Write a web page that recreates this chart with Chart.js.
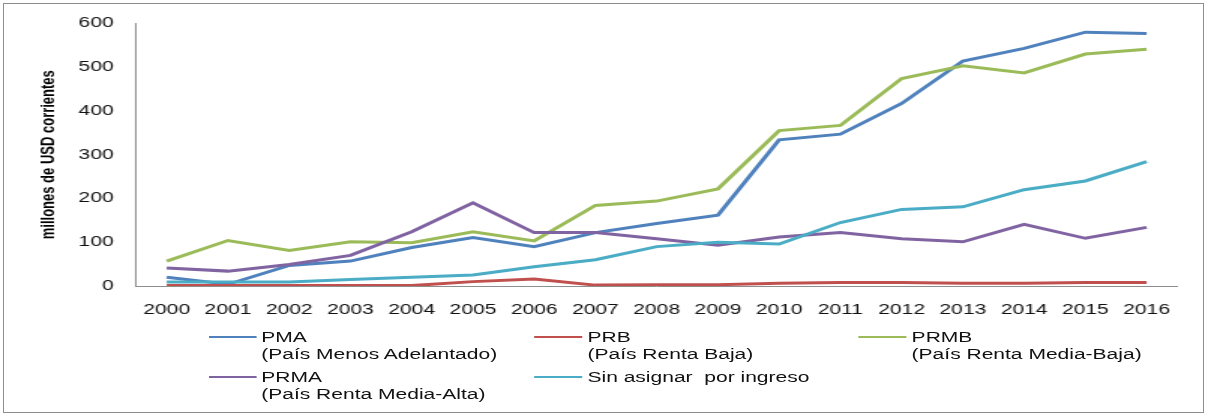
<!DOCTYPE html>
<html>
<head>
<meta charset="utf-8">
<script src="https://cdn.jsdelivr.net/npm/chart.js@4.4.1/dist/chart.umd.min.js"></script>
<style>
    body { margin: 0; background: #fff; width: 1205px; height: 414px; overflow: hidden; }
    #frame {
        position: absolute; left: 3px; top: 3px; width: 1201px; height: 410px;
        box-sizing: border-box; border: 1px solid #8e8e8e;
    }
    /* the picture is stretched sideways, so draw narrow and scale it */
    #stretch {
        position: absolute; left: 0; top: 0; width: 803px; height: 414px;
        transform: scaleX(1.5006); transform-origin: 0 0;
    }
    #chart { position: absolute; left: 0; top: 0; width: 803px; height: 414px; }
    .legLine { position: absolute; height: 2px; width: 32px; }
    .legText {
        position: absolute; font: 14px/17px "Liberation Sans", Arial, sans-serif;
        color: #111; white-space: pre;
    }
</style>
</head>
<body>
<div id="frame"></div>
<div id="stretch">
    <canvas id="chart" width="803" height="414"></canvas>
    <div id="legend"></div>
</div>
<script>
const years = ['2000', '2001', '2002', '2003', '2004', '2005', '2006', '2007', '2008',
               '2009', '2010', '2011', '2012', '2013', '2014', '2015', '2016'];

const pma      = [20, 4, 47, 57, 88, 111, 90, 122, 143, 162, 334, 347, 417, 514, 543, 580, 577];
const prb      = [1, 1, 1, 1, 1, 10, 16, 2, 3, 3, 6, 8, 8, 6, 6, 8, 8];
const prmb     = [57, 104, 81, 101, 99, 124, 103, 184, 194, 222, 355, 367, 474, 503, 487, 530, 541];
const prma     = [41, 34, 49, 70, 124, 190, 122, 122, 108, 93, 112, 122, 108, 101, 141, 109, 134];
const sinAsig  = [9, 9, 9, 15, 20, 25, 44, 60, 90, 100, 96, 145, 175, 181, 220, 240, 284];

const seriesNames = ['PMA', 'PRB', 'PRMB', 'PRMA', 'Sin asignar  por ingreso'];
const seriesNotes = ['(País Menos Adelantado)', '(País Renta Baja)', '(País Renta Media-Baja)',
                     '(País Renta Media-Alta)', ''];
const seriesColors = ['#4F81BD', '#C0504D', '#9BBB59', '#8064A2', '#4BACC6'];
const seriesData = [pma, prb, prmb, prma, sinAsig];

const yTicks = [0, 100, 200, 300, 400, 500, 600];
const yTitle = 'millones de USD corrientes';

Chart.defaults.font.family = '"Liberation Sans", Arial, sans-serif';
Chart.defaults.color = '#111';

const datasets = seriesData.map((d, i) => ({
    label: seriesNames[i],
    data: d,
    borderColor: seriesColors[i],
    backgroundColor: seriesColors[i],
    borderWidth: 3,
    pointRadius: 0,
    tension: 0,
    fill: false,
    order: seriesData.length - i   // excel draws the last series on top
}));

new Chart(document.getElementById('chart').getContext('2d'), {
    type: 'line',
    data: { labels: years, datasets: datasets },
    options: {
        responsive: false,
        animation: false,
        layout: { padding: { left: 0, right: 18.5, top: 17, bottom: 88 } },
        plugins: { legend: { display: false }, tooltip: { enabled: false } },
        scales: {
            x: {
                offset: true,
                grid: { display: false, drawTicks: false },
                border: { display: true, color: '#8e8e8e', width: 1 },
                ticks: { font: { size: 14 }, padding: 16, maxRotation: 0, autoSkip: false },
                afterFit: function(scale) { scale.height = 40; }
            },
            y: {
                min: 0,
                max: 600,
                grid: { display: false, drawTicks: false },
                border: { display: true, color: '#8e8e8e', width: 1 },
                afterBuildTicks: function(scale) {
                    scale.ticks = yTicks.map(v => ({ value: v }));
                },
                ticks: { font: { size: 14 }, padding: 15 },
                title: {
                    display: true,
                    text: yTitle,
                    font: { size: 13, weight: 'bold' },
                    color: '#000',
                    padding: { top: 24.5, bottom: 0 }
                },
                afterFit: function(scale) { scale.width = 90.7; }
            }
        }
    }
});

// legend below the plot, three columns like the original
const legend = document.getElementById('legend');
const colX = [138.6, 356, 572];
const rowY = [337, 377];
seriesNames.forEach((name, i) => {
    const col = i % 3;
    const row = Math.floor(i / 3);
    const line = document.createElement('div');
    line.className = 'legLine';
    line.style.left = colX[col] + 'px';
    line.style.top = (rowY[row] - 1) + 'px';
    line.style.background = seriesColors[i];
    legend.appendChild(line);

    const text = document.createElement('div');
    text.className = 'legText';
    text.style.left = (colX[col] + 35.5) + 'px';
    text.style.top = (rowY[row] - 8.5) + 'px';
    text.textContent = seriesNotes[i] ? name + '\n' + seriesNotes[i] : name;
    legend.appendChild(text);
});
</script>
</body>
</html>
